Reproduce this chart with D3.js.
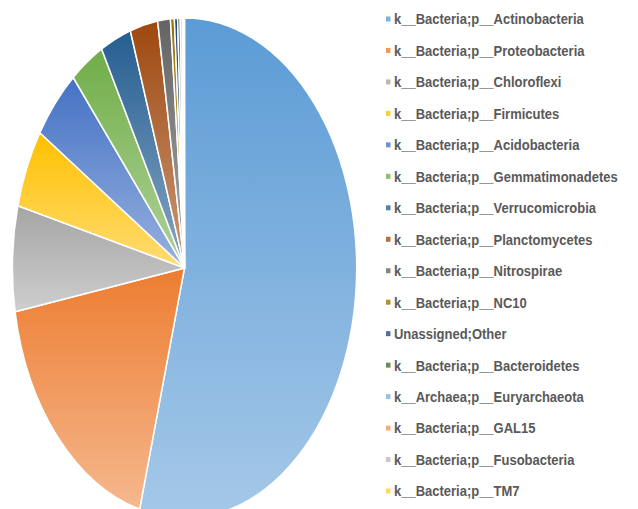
<!DOCTYPE html>
<html>
<head>
<meta charset="utf-8">
<script src="https://cdn.jsdelivr.net/npm/d3@7"></script>
<style>
  html, body { margin: 0; padding: 0; background: #fff; }
  svg { display: block; }
  .legend text { font-family: "Liberation Sans Narrow", "Arial Narrow", "Liberation Sans", sans-serif; font-weight: bold; font-size: 15px; fill: #595959; }
</style>
</head>
<body>
<svg id="chart" width="638" height="509"></svg>
<script>
// Phylum-level relative abundance (%)
const categories = [
  "k__Bacteria;p__Actinobacteria",
  "k__Bacteria;p__Proteobacteria",
  "k__Bacteria;p__Chloroflexi",
  "k__Bacteria;p__Firmicutes",
  "k__Bacteria;p__Acidobacteria",
  "k__Bacteria;p__Gemmatimonadetes",
  "k__Bacteria;p__Verrucomicrobia",
  "k__Bacteria;p__Planctomycetes",
  "k__Bacteria;p__Nitrospirae",
  "k__Bacteria;p__NC10",
  "Unassigned;Other",
  "k__Bacteria;p__Bacteroidetes",
  "k__Archaea;p__Euryarchaeota",
  "k__Bacteria;p__GAL15",
  "k__Bacteria;p__Fusobacteria",
  "k__Bacteria;p__TM7"
];
const values = [54.2, 18.0, 6.8, 5.1, 4.7, 3.2, 2.9, 2.6, 1.2, 0.36, 0.3, 0.25, 0.18, 0.12, 0.06, 0.03];
const palette = [
  "#5B9BD5", "#ED7D31", "#A5A5A5", "#FFC000", "#4472C4", "#70AD47",
  "#255E91", "#9E480E", "#636363", "#997300", "#264478", "#43682B",
  "#7CAFDD", "#F1975A", "#B7B7B7", "#FFCD33"
];

const data = categories.map((name, i) => ({ name, value: values[i], color: palette[i] }));

const svg = d3.select("#chart");
const defs = svg.append("defs");

// Vertical gradient per slice: base colour at top fading to a lighter tint
data.forEach((d, i) => {
  const g = defs.append("linearGradient")
    .attr("id", "grad" + i)
    .attr("x1", 0).attr("y1", 0).attr("x2", 0).attr("y2", 1);
  g.append("stop").attr("offset", "0%").attr("stop-color", d.color);
  g.append("stop").attr("offset", "100%").attr("stop-color", d3.interpolateRgb(d.color, "#fff")(0.45));
});

// Elliptical pie: unit-radius arcs stretched into an ellipse
const cx = 184.5, cy = 268, rx = 172, ry = 250;
const pie = d3.pie().value(d => d.value).sort(null);
const arc = d3.arc().innerRadius(0).outerRadius(1);

const pieG = svg.append("g")
  .attr("transform", `translate(${cx},${cy}) scale(${rx},${ry})`);

pieG.selectAll("path")
  .data(pie(data))
  .join("path")
  .attr("d", arc)
  .attr("fill", (d, i) => `url(#grad${i})`)
  .attr("stroke", "#fff")
  .attr("stroke-width", 1.5)
  .attr("vector-effect", "non-scaling-stroke");

// Legend
const legendY = d3.scalePoint().domain(categories).range([19, 491]);
const legend = svg.append("g").attr("class", "legend");
const rows = legend.selectAll("g")
  .data(data)
  .join("g")
  .attr("transform", d => `translate(386,${legendY(d.name)})`);

rows.append("rect")
  .attr("x", 0).attr("y", -2.5)
  .attr("width", 4.5).attr("height", 5)
  .attr("fill", d => d3.interpolateRgb(d.color, "#fff")(0.22));

// Condensed labels: squeeze horizontally so the first label spans ~190px
const labels = rows.append("g")
  .attr("transform", "translate(8,0)")
  .append("text")
  .attr("dy", "0.36em")
  .text(d => d.name);

const firstW = labels.node().getComputedTextLength();
const squeeze = Math.min(1, 190 / firstW);
labels.attr("transform", `scale(${squeeze},1)`);
</script>
</body>
</html>
